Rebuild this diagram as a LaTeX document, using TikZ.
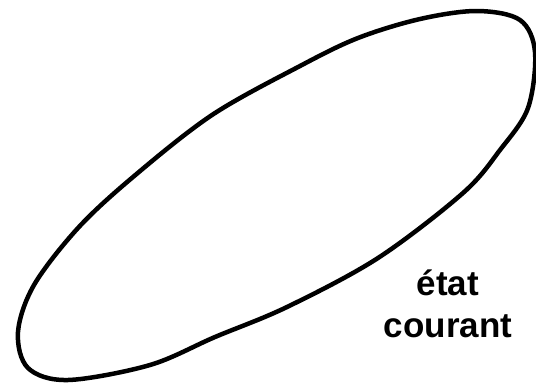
\documentclass[tikz,border=0pt]{standalone}
\usepackage{fontspec}
\setmainfont{Liberation Sans}
\begin{document}
\begin{tikzpicture}[x=1pt,y=-1pt,
  stateline/.style={draw=black,line width=4.5pt,line join=round},
  statelabel/.style={align=center,font=\bfseries\fontsize{35}{42}\selectfont}]
\fill[white] (0,0) rectangle (536,384);
\useasboundingbox (0,0) rectangle (536,384);
\begin{scope}
\clip (0,0) rectangle (536,384);
\draw[stateline] plot[smooth cycle,tension=0.55] coordinates {
  (34,285) (78,228) (133,177) (212,115) (300,66) (358,38) (420,19)
  (477,11) (520,20) (535,52) (528,108) (500,150) (463,193) (378,258)
  (287,307) (215,337) (150,365) (68,380) (28,368) (18,332)};
\end{scope}
\node[statelabel] (lbl) at (448,304) {état\\courant};
\end{tikzpicture}
\end{document}
